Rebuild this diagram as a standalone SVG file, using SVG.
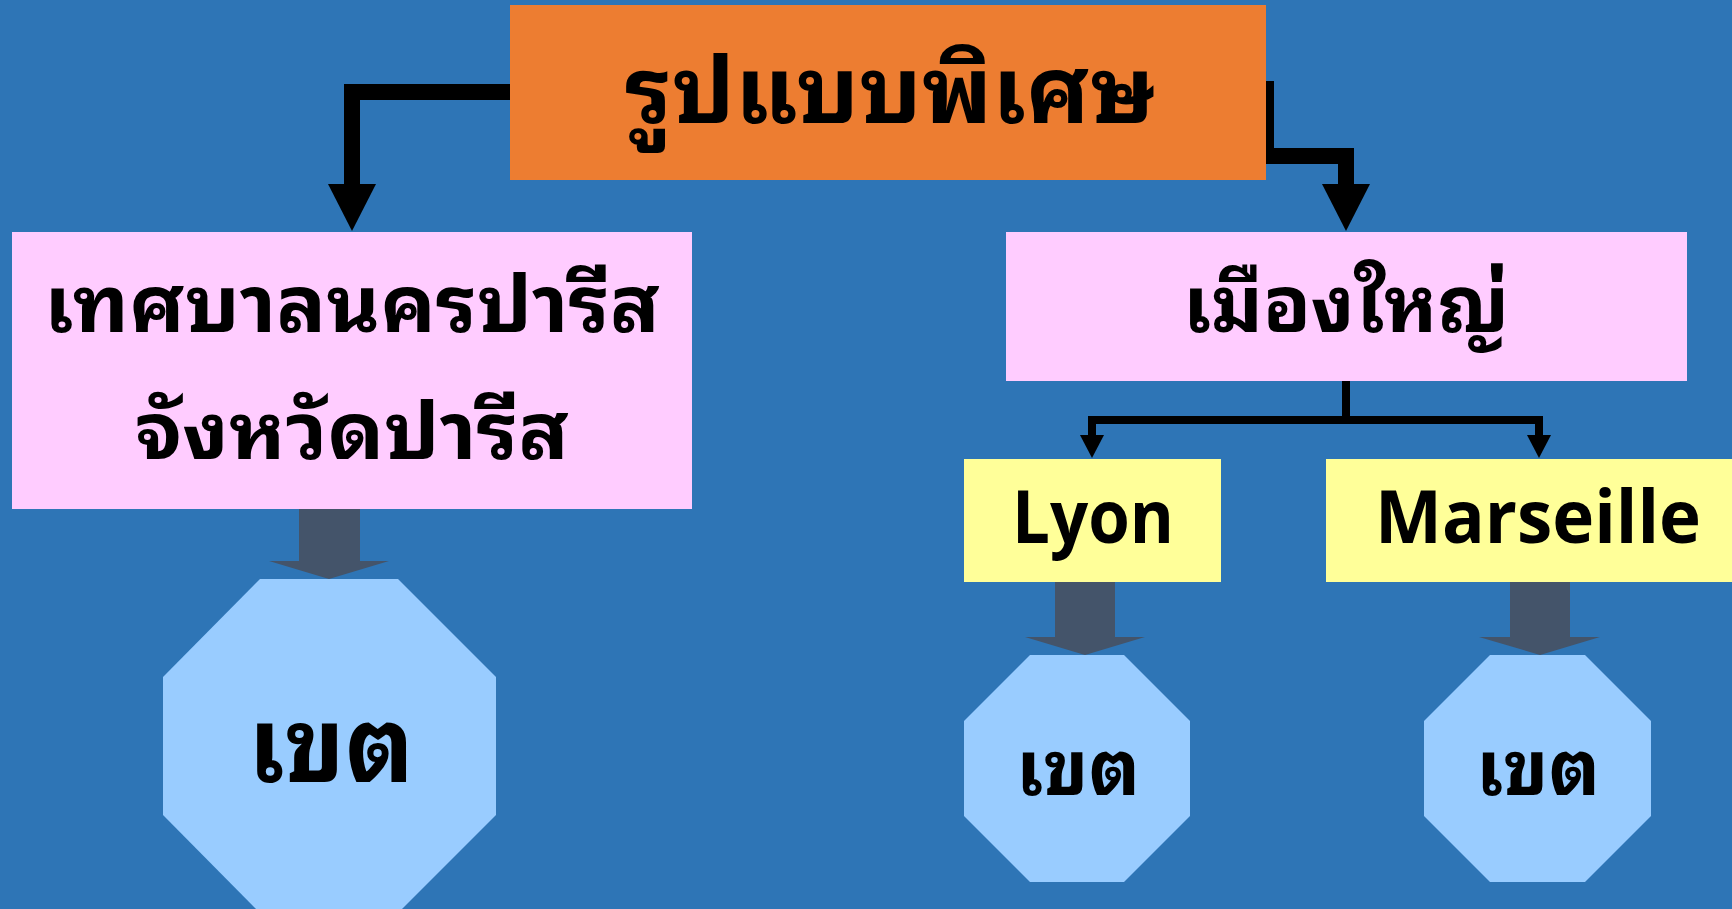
<svg xmlns="http://www.w3.org/2000/svg" width="1732" height="909" viewBox="0 0 1732 909">
<defs>
<style>
.th{font-family:"Noto Sans Thai Looped","Noto Serif Thai","Noto Sans Thai","Noto Sans","DejaVu Sans",sans-serif;font-weight:bold;fill:#000;text-anchor:middle}
.en{font-family:"Open Sans","Liberation Sans",sans-serif;font-weight:bold;fill:#000;text-anchor:middle}
.pink{fill:#FFCCFF}
.yellow{fill:#FFFF99}
.oct{fill:#99CCFF}
.blk{fill:#44546A}
.thick{fill:none;stroke:#000;stroke-width:16}
.thin{fill:none;stroke:#000;stroke-width:8}
</style>
<marker id="bigHead" markerUnits="userSpaceOnUse" markerWidth="48" markerHeight="48" viewBox="0 -24 47 48" refX="0" refY="0" orient="auto"><path d="M0,-24 L47,0 L0,24 z" fill="#000"/></marker>
<marker id="smallHead" markerUnits="userSpaceOnUse" markerWidth="24" markerHeight="24" viewBox="0 -12 23 24" refX="0" refY="0" orient="auto"><path d="M0,-12 L23,0 L0,12 z" fill="#000"/></marker>
</defs>
<rect width="1732" height="909" fill="#2E75B6"/>
<g id="connectors">
<path class="thick" d="M510,92 H352 V184" marker-end="url(#bigHead)"/>
<path class="thick" d="M1266,81 V156 H1346 V184" marker-end="url(#bigHead)"/>
<path class="thin" d="M1346,381 V420"/>
<path class="thin" d="M1346,420 H1092 V435" marker-end="url(#smallHead)"/>
<path class="thin" d="M1346,420 H1539 V435" marker-end="url(#smallHead)"/>
<polygon class="blk" points="299,504 360,504 360,561 389,561 329,579 269,561 299,561"/>
<polygon class="blk" points="1055,580 1115,580 1115,637 1145,637 1085,655 1025,637 1055,637"/>
<polygon class="blk" points="1510,580 1570,580 1570,637 1600,637 1540,655 1479,637 1510,637"/>
</g>
<g id="top">
<rect x="510" y="5" width="756" height="175" fill="#ED7D31"/>
<text class="th" x="890" y="123" font-size="92" textLength="530" lengthAdjust="spacingAndGlyphs">รูปแบบพิเศษ</text>
</g>
<g id="paris">
<rect class="pink" x="12" y="232" width="680" height="277"/>
<text class="th" x="352" y="332" font-size="78" textLength="616" lengthAdjust="spacingAndGlyphs">เทศบาลนครปารีส</text>
<text class="th" x="352" y="459" font-size="78" textLength="434" lengthAdjust="spacingAndGlyphs">จังหวัดปารีส</text>
</g>
<g id="bigcity">
<rect class="pink" x="1006" y="232" width="681" height="149"/>
<text class="th" x="1346" y="332" font-size="78" textLength="326" lengthAdjust="spacingAndGlyphs">เมืองใหญ่</text>
</g>
<g id="lyon">
<rect class="yellow" x="964" y="459" width="257" height="123"/>
<text class="en" x="1093" y="543" font-size="74" textLength="162" lengthAdjust="spacingAndGlyphs">Lyon</text>
</g>
<g id="marseille">
<rect class="yellow" x="1326" y="459" width="424" height="123"/>
<text class="en" x="1538" y="543" font-size="74" textLength="326" lengthAdjust="spacingAndGlyphs">Marseille</text>
</g>
<g id="district-paris">
<polygon class="oct" points="260,579 398,579 496,677 496,815 398,913 260,913 163,815 163,677"/>
<text class="th" x="331" y="782" font-size="104" textLength="166" lengthAdjust="spacingAndGlyphs">เขต</text>
</g>
<g id="district-lyon">
<polygon class="oct" points="1030,655 1124,655 1190,721 1190,816 1124,882 1030,882 964,816 964,721"/>
<text class="th" x="1078" y="795" font-size="76" textLength="124" lengthAdjust="spacingAndGlyphs">เขต</text>
</g>
<g id="district-marseille">
<polygon class="oct" points="1490,655 1585,655 1651,721 1651,816 1585,882 1490,882 1424,816 1424,721"/>
<text class="th" x="1538" y="795" font-size="76" textLength="124" lengthAdjust="spacingAndGlyphs">เขต</text>
</g>
</svg>
